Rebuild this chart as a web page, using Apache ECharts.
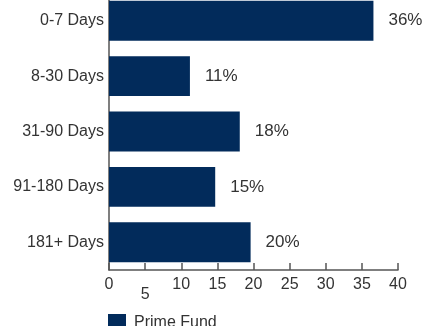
<!DOCTYPE html>
<html>
<head>
<meta charset="utf-8">
<script src="https://cdn.jsdelivr.net/npm/echarts@6/dist/echarts.min.js"></script>
<style>
  html, body { margin: 0; padding: 0; background: #fff; }
  #chart { width: 425px; height: 326px; }
</style>
</head>
<body>
<div id="chart"></div>
<script>
// data
const categories = ['0-7 Days', '8-30 Days', '31-90 Days', '91-180 Days', '181+ Days']
const primeFund = [36.6, 11.2, 18.1, 14.7, 19.6]
const valueLabels = ['36%', '11%', '18%', '15%', '20%']
const seriesName = 'Prime Fund'

const textColor = '#333'
const barColor = '#022b5b'
const font = '"Liberation Sans", Arial, sans-serif'

const chart = echarts.init(document.getElementById('chart'))
chart.setOption({
  animation: false,
  textStyle: { fontFamily: font },
  grid: {
    left: 109,
    right: 27,
    top: -7,
    bottom: 56,
    containLabel: false,
    outerBoundsMode: 'none'
  },
  legend: {
    data: [seriesName],
    left: 103,
    top: 309,
    icon: 'rect',
    itemWidth: 18,
    itemHeight: 18,
    textStyle: { fontSize: 16, color: textColor, fontFamily: font, padding: [0, 0, 0, 3] }
  },
  xAxis: {
    type: 'value',
    min: 0,
    max: 40,
    interval: 5,
    splitLine: { show: false },
    axisLine: { show: true, lineStyle: { color: '#555', width: 1.5 } },
    axisTick: { show: true, inside: true, length: 7, lineStyle: { color: '#555', width: 1.5 } },
    axisLabel: {
      margin: 7,
      fontSize: 16,
      color: textColor,
      fontFamily: font,
      formatter: (v) => v === 5 ? '{low|5}' : String(v),
      rich: {
        low: { fontSize: 16, color: textColor, fontFamily: font, padding: [10, 0, 0, 0] }
      }
    }
  },
  yAxis: {
    type: 'category',
    data: categories,
    inverse: true,
    axisLine: { show: true, lineStyle: { color: '#555', width: 1.5 } },
    axisTick: { show: false },
    axisLabel: { margin: 5, fontSize: 16, color: textColor, fontFamily: font }
  },
  series: [{
    name: seriesName,
    type: 'bar',
    data: primeFund,
    barCategoryGap: '28%',
    itemStyle: { color: barColor },
    label: {
      show: true,
      position: 'right',
      distance: 15,
      fontSize: 17,
      color: textColor,
      fontFamily: font,
      formatter: (p) => valueLabels[p.dataIndex]
    }
  }]
})
</script>
</body>
</html>
